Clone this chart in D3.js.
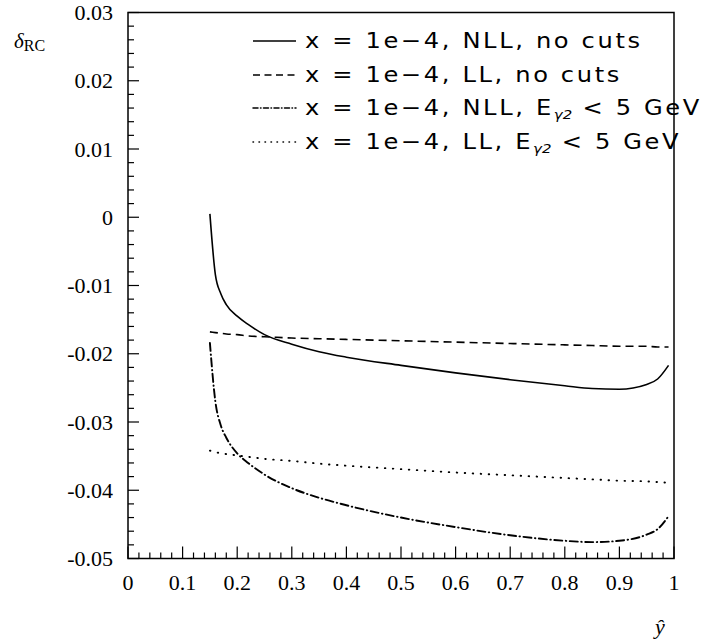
<!DOCTYPE html>
<html>
<head>
<meta charset="utf-8">
<script src="https://cdn.jsdelivr.net/npm/d3@7"></script>
<style>
  body { margin: 0; background: #fff; }
  svg { display: block; }
</style>
</head>
<body>
<svg id="chart"></svg>
<script>
// y-hat grid shared by all four curves
var yhat = [0.15, 0.16, 0.17, 0.18, 0.2, 0.22, 0.25, 0.3, 0.35, 0.4, 0.5, 0.6, 0.7, 0.8, 0.85, 0.9, 0.95, 0.97, 0.99];

var nllNoCuts = [0.0005, -0.0084, -0.0112, -0.0128, -0.0145, -0.0157, -0.0172, -0.0186, -0.0197, -0.0205, -0.0217, -0.0228, -0.0238, -0.0247, -0.0251, -0.0252, -0.0245, -0.0237, -0.0217];
var llNoCuts  = [-0.0168, -0.0169, -0.0170, -0.0171, -0.0172, -0.0174, -0.0175, -0.0177, -0.0178, -0.0179, -0.0181, -0.0183, -0.0185, -0.0187, -0.0188, -0.0189, -0.0189, -0.0190, -0.0190];
var nllCut    = [-0.0184, -0.0270, -0.0305, -0.0323, -0.0346, -0.0360, -0.0377, -0.0397, -0.0411, -0.0422, -0.0440, -0.0454, -0.0466, -0.0474, -0.0476, -0.0474, -0.0465, -0.0457, -0.0438];
var llCut     = [-0.0342, -0.0344, -0.0346, -0.0347, -0.0349, -0.0351, -0.0354, -0.0357, -0.0361, -0.0364, -0.0369, -0.0374, -0.0378, -0.0382, -0.0384, -0.0386, -0.0387, -0.0388, -0.0389];

var xTicks = [0, 0.1, 0.2, 0.3, 0.4, 0.5, 0.6, 0.7, 0.8, 0.9, 1];
var yTicks = [0.03, 0.02, 0.01, 0, -0.01, -0.02, -0.03, -0.04, -0.05];

var series = [
  {vals: nllNoCuts, dash: null,          cap: 'butt',  label: "x = 1e\u22124, NLL, no cuts", cut: false},
  {vals: llNoCuts,  dash: "8,5",         cap: 'butt',  label: "x = 1e\u22124, LL, no cuts",  cut: false},
  {vals: nllCut,    dash: "8,3.5,0.5,3.5", cap: 'round', label: "x = 1e\u22124, NLL, E",     cut: true},
  {vals: llCut,     dash: "0.5,7.5",     cap: 'round', label: "x = 1e\u22124, LL, E",        cut: true}
];

draw();

function draw() {
var W = 701, H = 640;
var mL = 128, mR = 674, mT = 12.5, mB = 558.5;
var serif = "'Liberation Serif', 'Times New Roman', serif";

var svg = d3.select('#chart')
  .attr('width', W)
  .attr('height', H);

var x = d3.scaleLinear().domain([0, 1]).range([mL, mR]);
var y = d3.scaleLinear().domain([-0.05, 0.03]).range([mB, mT]);

// frame
svg.append('rect')
  .attr('x', mL).attr('y', mT)
  .attr('width', mR - mL).attr('height', mB - mT)
  .attr('fill', 'none').attr('stroke', '#000').attr('stroke-width', 1.5);

// minor + major ticks, drawn inward
var xMinor = d3.range(0, 51).map(function(i) { return i / 50; });
var yMinor = d3.range(0, 41).map(function(i) { return -0.05 + i * 0.002; });

svg.append('g').selectAll('line')
  .data(xMinor).enter().append('line')
  .attr('x1', function(d) { return x(d); })
  .attr('x2', function(d) { return x(d); })
  .attr('y1', mB)
  .attr('y2', function(d, i) { return mB - (i % 5 == 0 ? 12 : 6); })
  .attr('stroke', '#000').attr('stroke-width', 1.2);

svg.append('g').selectAll('line')
  .data(yMinor).enter().append('line')
  .attr('y1', function(d) { return y(d); })
  .attr('y2', function(d) { return y(d); })
  .attr('x1', mL)
  .attr('x2', function(d, i) { return mL + (i % 5 == 0 ? 11 : 6); })
  .attr('stroke', '#000').attr('stroke-width', 1.2);

// tick labels
svg.append('g').selectAll('text')
  .data(xTicks).enter().append('text')
  .attr('x', function(d) { return x(d); })
  .attr('y', 590)
  .attr('text-anchor', 'middle')
  .style('font-family', serif)
  .style('font-size', '22px')
  .text(function(d) { return d; });

svg.append('g').selectAll('text')
  .data(yTicks).enter().append('text')
  .attr('x', 113)
  .attr('y', function(d) { return y(d) + 7.5; })
  .attr('text-anchor', 'end')
  .style('font-family', serif)
  .style('font-size', '22px')
  .text(function(d) { return d; });

// axis titles
var yl = svg.append('text')
  .attr('x', 14).attr('y', 48)
  .style('font-family', serif);
yl.append('tspan').style('font-style', 'italic').style('font-size', '21px').text('\u03b4');
yl.append('tspan').attr('dy', 3).style('font-size', '16px').text('RC');

svg.append('text')
  .attr('x', 655).attr('y', 634)
  .style('font-family', serif)
  .style('font-style', 'italic')
  .style('font-size', '22px')
  .text('\u0177');

// curves
var line = d3.line()
  .x(function(d) { return x(d[0]); })
  .y(function(d) { return y(d[1]); })
  .curve(d3.curveMonotoneX);

svg.append('g').selectAll('path')
  .data(series).enter().append('path')
  .attr('d', function(s) { return line(yhat.map(function(v, i) { return [v, s.vals[i]]; })); })
  .attr('fill', 'none')
  .attr('stroke', '#000')
  .attr('stroke-width', function(s) { return s.cap == 'round' ? 1.9 : 1.6; })
  .attr('stroke-linecap', function(s) { return s.cap; })
  .attr('stroke-dasharray', function(s) { return s.dash; });

// legend
var rowY = [41, 75, 108, 142];
var legDash = [null, "7,4.5", "5,2.5,0.5,2.5", "0.5,5.5"];
var leg = svg.append('g');
leg.selectAll('line')
  .data(series).enter().append('line')
  .attr('x1', 253).attr('x2', 296)
  .attr('y1', function(d, i) { return rowY[i]; })
  .attr('y2', function(d, i) { return rowY[i]; })
  .attr('stroke', '#000').attr('stroke-width', 1.5)
  .attr('stroke-linecap', function(s) { return s.cap; })
  .attr('stroke-dasharray', function(d, i) { return legDash[i]; });

var lt = leg.append('g')
  .attr('transform', 'translate(305,0) scale(1.15,1)')
  .selectAll('text')
  .data(series).enter().append('text')
  .attr('x', 0)
  .attr('y', function(d, i) { return rowY[i] + 7.5; })
  .style('font-family', "'DejaVu Sans', sans-serif")
  .style('font-size', '21px')
  .style('letter-spacing', '2.3px');
lt.append('tspan').text(function(d) { return d.label; });
lt.filter(function(d) { return d.cut; }).append('tspan')
  .attr('dy', 4).style('font-size', '13px').style('letter-spacing', '0px').style('font-style', 'italic').text('\u03b32');
lt.filter(function(d) { return d.cut; }).append('tspan')
  .attr('dy', -4).text(' < 5 GeV');
}
</script>
</body>
</html>
